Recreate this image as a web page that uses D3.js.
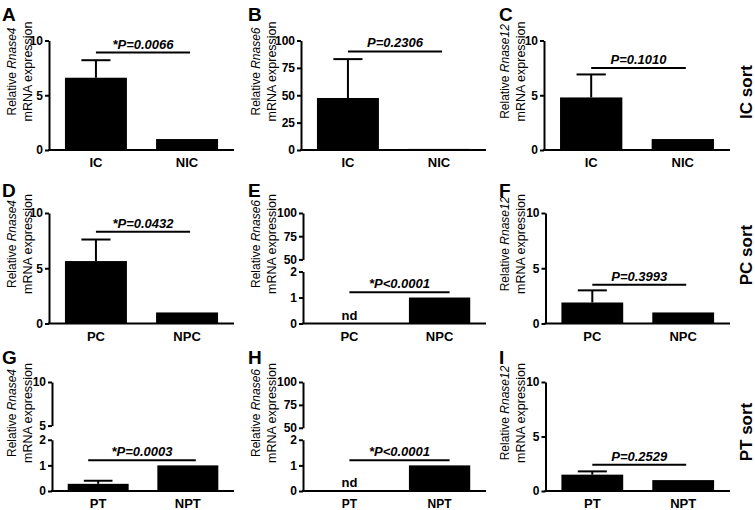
<!DOCTYPE html>
<html>
<head>
<meta charset="utf-8">
<script src="https://cdn.jsdelivr.net/npm/d3@7"></script>
<style>
  body { margin: 0; background: #fff; }
  svg { display: block; font-family: "Liberation Sans", Arial, sans-serif; }
  .axis path, .axis line { stroke: #000; stroke-width: 2px; }
  .axis text { font-size: 12px; font-weight: bold; fill: #000; }
</style>
</head>
<body>
<div id="chart"></div>
<script>
// ---- data ----
const panelIds   = ["A", "B", "C", "D", "E", "F", "G", "H", "I"];
const groups     = [["IC", "NIC"], ["IC", "NIC"], ["IC", "NIC"],
                    ["PC", "NPC"], ["PC", "NPC"], ["PC", "NPC"],
                    ["PT", "NPT"], ["PT", "NPT"], ["PT", "NPT"]];
const genes      = ["Rnase4", "Rnase6", "Rnase12", "Rnase4", "Rnase6", "Rnase12", "Rnase4", "Rnase6", "Rnase12"];
const means      = [[6.6, 1.0], [47.5, 1.0], [4.8, 1.0],
                    [5.65, 1.0], [0, 1.0], [1.9, 1.0],
                    [0.28, 1.0], [0, 1.0], [1.5, 1.0]];
const errTops    = [[8.2, null], [83, null], [6.9, null],
                    [7.6, null], [null, null], [3.0, null],
                    [0.4, null], [null, null], [1.8, null]];
const notDetected = [[false, false], [false, false], [false, false],
                     [false, false], [true, false], [false, false],
                     [false, false], [true, false], [false, false]];
const pLabels    = ["*P=0.0066", "P=0.2306", "P=0.1010",
                    "*P=0.0432", "*P<0.0001", "P=0.3993",
                    "*P=0.0003", "*P<0.0001", "P=0.2529"];
const pLineY     = [8.9, 90, 7.5, 8.3, 1.2, 3.5, 1.2, 1.2, 2.4];
// y axes: single domain, or [lower, upper] for broken axes
const yDomains   = [[0, 10], [0, 100], [0, 10],
                    [0, 10], [[0, 2], [50, 100]], [0, 10],
                    [[0, 2], [5, 10]], [[0, 2], [50, 100]], [0, 10]];
const yTicks     = [[0, 5, 10], [0, 25, 50, 75, 100], [0, 5, 10],
                    [0, 5, 10], [[0, 1, 2], [50, 75, 100]], [0, 5, 10],
                    [[0, 1, 2], [5, 10]], [[0, 1, 2], [50, 75, 100]], [0, 5, 10]];
const sortLabels = ["IC sort", "PC sort", "PT sort"];

// ---- layout ----
const W = 755, H = 510;
const axisX  = [49, 301, 544, 49, 303, 545.5, 52, 303, 545.5];
const axisX2 = [234, 486, 730, 234, 486, 730, 234, 486, 730];
const rowTop  = [40.5, 213, 382];
const rowZero = [150, 323.5, 491];
const labelX  = [28, 272, 521];          // centre of 2nd y-label line
const letterX = [2, 248, 499];
const letterY = [21, 197, 364];
const lineExt = [[0, 3], [0, 3], [0, 3], [0, 3], [0, 10], [0, 3], [10, 8], [0, 10], [0, 3]];
const fmt = d3.format("d");

const svg = d3.select("#chart").append("svg")
  .attr("width", W).attr("height", H);

panelIds.forEach(function(id, i) {
  let row = Math.floor(i / 3), col = i % 3;
  let top = rowTop[row], zero = rowZero[row];
  let h = zero - top;
  let g = svg.append("g");

  // panel letter
  g.append("text")
    .attr("x", letterX[col]).attr("y", letterY[row])
    .attr("font-size", 19).attr("font-weight", "bold")
    .text(id);

  // x scale
  let x = d3.scaleBand().domain(groups[i])
    .range([axisX[i], axisX2[i]])
    .paddingInner(0.32).paddingOuter(0.175);

  // y scale(s)
  let broken = Array.isArray(yDomains[i][0]);
  let y;
  if (broken) {
    y = d3.scaleLinear().domain(yDomains[i][0]).range([zero, zero - 0.47 * h]);
    let yUp = d3.scaleLinear().domain(yDomains[i][1]).range([top + (row == 2 && col == 0 ? 0.40 : 0.42) * h, top]);
    g.append("g").attr("class", "axis")
      .attr("transform", "translate(" + axisX[i] + ",0)")
      .call(d3.axisLeft(y).tickValues(yTicks[i][0]).tickFormat(fmt).tickSize(4).tickPadding(2).tickSizeOuter(0));
    g.append("g").attr("class", "axis")
      .attr("transform", "translate(" + axisX[i] + ",0)")
      .call(d3.axisLeft(yUp).tickValues(yTicks[i][1]).tickFormat(fmt).tickSize(4).tickPadding(2).tickSizeOuter(0));
  } else {
    y = d3.scaleLinear().domain(yDomains[i]).range([zero, top]);
    g.append("g").attr("class", "axis")
      .attr("transform", "translate(" + axisX[i] + ",0)")
      .call(d3.axisLeft(y).tickValues(yTicks[i]).tickFormat(fmt).tickSize(4).tickPadding(2).tickSizeOuter(0));
  }

  // x axis (line only) + category labels
  g.append("line")
    .attr("x1", axisX[i] - 1).attr("x2", axisX2[i])
    .attr("y1", zero).attr("y2", zero)
    .attr("stroke", "#000").attr("stroke-width", 2);
  g.selectAll(".cat").data(groups[i]).enter().append("text")
    .attr("x", d => x(d) + x.bandwidth() / 2)
    .attr("y", zero + 17)
    .attr("text-anchor", "middle")
    .attr("font-size", row == 2 && col == 1 ? 12 : 13).attr("font-weight", "bold")
    .text(d => d);

  // bars
  let rows = groups[i].map((grp, k) => ({ grp: grp, v: means[i][k], e: errTops[i][k], nd: notDetected[i][k] }));
  g.selectAll(".bar").data(rows.filter(d => !d.nd)).enter().append("rect")
    .attr("x", d => x(d.grp))
    .attr("width", x.bandwidth())
    .attr("y", d => y(d.v))
    .attr("height", d => zero - y(d.v))
    .attr("fill", "#000");

  // error bars
  let errs = rows.filter(d => d.e != null);
  g.selectAll(".err").data(errs).enter().append("line")
    .attr("x1", d => x(d.grp) + x.bandwidth() / 2)
    .attr("x2", d => x(d.grp) + x.bandwidth() / 2)
    .attr("y1", d => y(d.v)).attr("y2", d => y(d.e))
    .attr("stroke", "#000").attr("stroke-width", 2);
  g.selectAll(".cap").data(errs).enter().append("line")
    .attr("x1", d => x(d.grp) + x.bandwidth() * 0.265)
    .attr("x2", d => x(d.grp) + x.bandwidth() * 0.735)
    .attr("y1", d => y(d.e)).attr("y2", d => y(d.e))
    .attr("stroke", "#000").attr("stroke-width", 2);

  // nd labels
  g.selectAll(".nd").data(rows.filter(d => d.nd)).enter().append("text")
    .attr("x", d => x(d.grp) + x.bandwidth() / 2)
    .attr("y", zero - 4)
    .attr("text-anchor", "middle")
    .attr("font-size", 13).attr("font-weight", "bold")
    .text("nd");

  // significance line + p value
  let c1 = x(groups[i][0]) + x.bandwidth() / 2 - lineExt[i][0];
  let c2 = x(groups[i][1]) + x.bandwidth() / 2 + lineExt[i][1];
  let ly = y(pLineY[i]);
  g.append("line")
    .attr("x1", c1).attr("x2", c2).attr("y1", ly).attr("y2", ly)
    .attr("stroke", "#000").attr("stroke-width", 2);
  g.append("text")
    .attr("x", (c1 + c2) / 2).attr("y", ly - 4)
    .attr("text-anchor", "middle")
    .attr("font-size", 13).attr("font-weight", "bold").attr("font-style", "italic")
    .text(pLabels[i]);

  // y label (two lines, gene name in italics)
  let cy = top + 31;
  let t1 = g.append("text")
    .attr("transform", "translate(" + (labelX[col] - 16) + "," + cy + ") rotate(-90)")
    .attr("text-anchor", "middle").attr("dy", "0.35em")
    .attr("font-size", 12);
  t1.append("tspan").text("Relative ");
  t1.append("tspan").attr("font-style", "italic").text(genes[i]);
  g.append("text")
    .attr("transform", "translate(" + labelX[col] + "," + cy + ") rotate(-90)")
    .attr("text-anchor", "middle").attr("dy", "0.35em")
    .attr("font-size", 12.5)
    .text("mRNA expression");
});

// sort labels on the right
const sortY = [92, 255, 432];
sortLabels.forEach(function(s, r) {
  svg.append("text")
    .attr("transform", "translate(746," + sortY[r] + ") rotate(-90)")
    .attr("text-anchor", "middle").attr("dy", "0.35em")
    .attr("font-size", 17).attr("font-weight", "bold")
    .text(s);
});
</script>
</body>
</html>
